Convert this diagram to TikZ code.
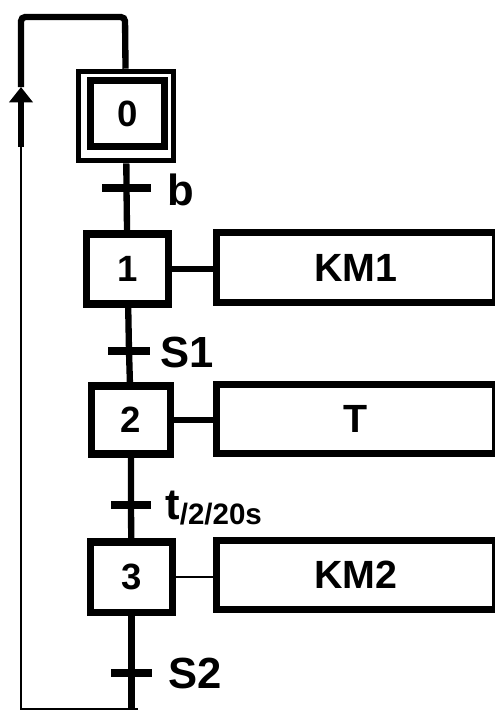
\documentclass[tikz,border=0pt]{standalone}
\usepackage{fontspec}
\setmainfont{Liberation Sans}
\usetikzlibrary{arrows.meta}

\begin{document}
\begin{tikzpicture}[x=0.025cm,y=-0.025cm,
    stepbox/.style={draw,line width=5pt,minimum width=2.03cm,minimum height=1.75cm,inner sep=0pt,font=\fontsize{26}{26}\selectfont\bfseries},
    actbox/.style={draw,line width=5pt,minimum width=6.95cm,minimum height=1.73cm,inner sep=0pt,font=\fontsize{28}{28}\selectfont\bfseries},
    trbar/.style={fill=black,minimum width=1.05cm,minimum height=0.18cm,inner sep=0pt},
    trlabel/.style={anchor=west,inner sep=0pt,font=\fontsize{31}{31}\selectfont\bfseries},
    link/.style={line width=4.5pt},
    thinlink/.style={line width=1.8pt}]
    \useasboundingbox (0,0) rectangle (494,711);

    % Steps
    \node[stepbox,minimum width=2.36cm,minimum height=2.24cm,line width=3.5pt] (s0) at (126,116) {};
    \node[stepbox,minimum width=1.84cm,minimum height=1.63cm,line width=5pt] (s0in) at (127.5,113.5) {0};
    \node[stepbox] (s1) at (127.5,269) {1};
    \node[stepbox,minimum width=1.99cm,minimum height=1.7cm] (s2) at (131,420) {2};
    \node[stepbox] (s3) at (131.5,577) {3};

    % Actions
    \node[actbox] (a1) at (356,267.5) {KM1};
    \node[actbox] (a2) at (356,419) {T};
    \node[actbox] (a3) at (356,575) {KM2};

    % Transitions
    \node[trbar,minimum width=1.2cm] (t0) at (126.5,188) {};
    \node[trbar] (t1) at (129,351) {};
    \node[trbar,minimum width=1cm] (t2) at (131,505) {};
    \node[trbar,minimum width=1cm] (t3) at (131.5,673) {};
    \node[trlabel] (lb) at (167,190) {b};
    \node[trlabel] (ls1) at (160,352) {S1};
    \node[trlabel,anchor=base west] (lt) at (165,519) {t\fontsize{21}{21}\selectfont\raisebox{-4pt}{/2/20s}};
    \node[trlabel] (ls2) at (168,673) {S2};

    % Links between steps
    \draw[link] (s0) -- (t0) -- (s1) -- (t1) -- (s2) -- (t2) -- (s3);
    \draw[link] (s1.east) -- (s1.east -| a1.west);
    \draw[link] (s2.east) -- (s2.east -| a2.west);
    \draw[thinlink] (s3.east) -- (s3.east -| a3.west);

    % Loop back to step 0
    \coordinate (bot) at (131.5,709);
    \coordinate (bl) at (21,709);
    \coordinate (mid) at (21,147);
    \coordinate (tip) at (21,87);
    \coordinate (tl) at (21,17);
    \coordinate (tr) at (125,17);
    \draw[link] (s3) -- (t3) -- (bot);
    \draw[thinlink] (138,709) -- (bl) -- (mid);
    \draw[link,-{Triangle[width=16.5pt,length=11pt]}] (mid) -- (tip);
    \draw[link,rounded corners=3pt] (tip) -- (tl) -- (tr) -- (s0);
\end{tikzpicture}
\end{document}
